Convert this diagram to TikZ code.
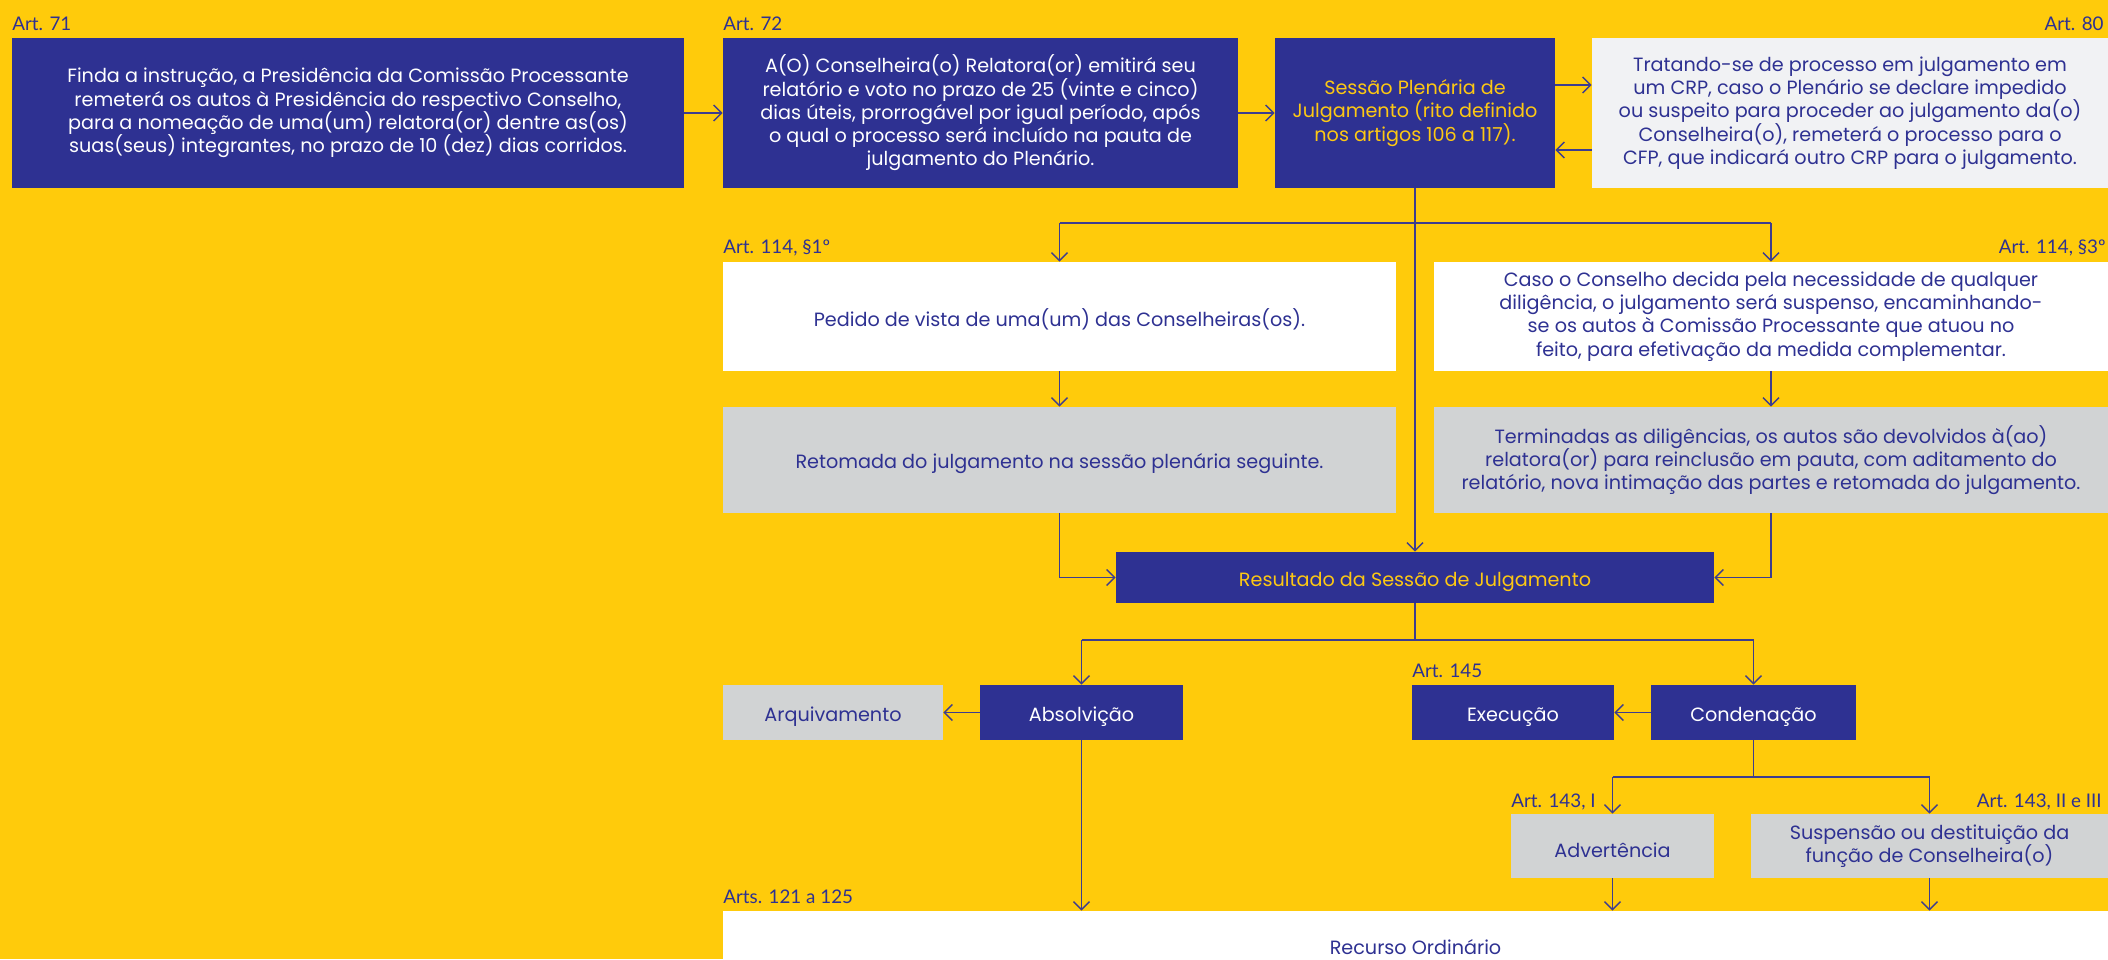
\documentclass[tikz,border=0pt]{standalone}
\usepackage{fontspec}
\setmainfont{Lato}
\newfontfamily\boxfont{Poppins}
\usetikzlibrary{arrows.meta}
\definecolor{bgy}{HTML}{FFCB0B}
\definecolor{navy}{HTML}{2E3192}
\definecolor{gry}{HTML}{D1D3D4}
\definecolor{lgry}{HTML}{F1F2F4}
\definecolor{ytxt}{HTML}{FDC813}
\definecolor{lne}{HTML}{3D3D8F}
\begin{document}
\begin{tikzpicture}[x=0.5pt,y=-0.5pt,
  box/.style={rectangle, inner sep=0pt, align=center, font=\boxfont\fontsize{9.6}{11.65}\selectfont,
    execute at begin node={\rule{0pt}{11.5pt}}},
  navybox/.style={box, fill=navy, text=white},
  navyy/.style={box, fill=navy, text=ytxt},
  whitebox/.style={box, fill=white, text=navy},
  greybox/.style={box, fill=gry, text=navy},
  lightbox/.style={box, fill=lgry, text=navy},
  lbl/.style={inner sep=0pt, text=navy, font=\fontsize{9.4}{10}\selectfont},
  conn/.style={draw=lne, line width=0.7pt},
  arr/.style={conn, -{Straight Barb[length=4pt,width=8pt]}}
]
\useasboundingbox (0,0) rectangle (2108,959);
\fill[bgy] (0,0) rectangle (2108,959);

% top row
\node[navybox, minimum width=336pt, minimum height=75pt] (b1) at (348,113)
  {Finda a instrução, a Presidência da Comissão Processante\\remeterá os autos à Presidência do respectivo Conselho,\\para a nomeação de uma(um) relatora(or) dentre as(os)\\suas(seus) integrantes, no prazo de 10 (dez) dias corridos.};
\node[navybox, minimum width=257.5pt, minimum height=75pt] (b2) at (980.5,113)
  {A(O) Conselheira(o) Relatora(or) emitirá seu\\relatório e voto no prazo de 25 (vinte e cinco)\\dias úteis, prorrogável por igual período, após\\o qual o processo será incluído na pauta de\\julgamento do Plenário.};
\node[navyy, minimum width=140pt, minimum height=75pt] (b3) at (1415,113)
  {Sessão Plenária de\\Julgamento (rito definido\\nos artigos 106 a 117).};
\node[lightbox, minimum width=258pt, minimum height=75pt] (b4) at (1850,113)
  {Tratando-se de processo em julgamento em\\um CRP, caso o Plenário se declare impedido\\ou suspeito para proceder ao julgamento da(o)\\Conselheira(o), remeterá o processo para o\\CFP, que indicará outro CRP para o julgamento.};

% second and third rows
\node[whitebox, minimum width=336.5pt, minimum height=54.5pt] (b5) at (1059.5,316.5)
  {Pedido de vista de uma(um) das Conselheiras(os).};
\node[whitebox, minimum width=337pt, minimum height=54.5pt] (b6) at (1771,316.5)
  {Caso o Conselho decida pela necessidade de qualquer\\diligência, o julgamento será suspenso, encaminhando-\\se os autos à Comissão Processante que atuou no\\feito, para efetivação da medida complementar.};
\node[greybox, minimum width=336.5pt, minimum height=53pt] (b7) at (1059.5,460)
  {Retomada do julgamento na sessão plenária seguinte.};
\node[greybox, minimum width=337pt, minimum height=53pt] (b8) at (1771,460)
  {Terminadas as diligências, os autos são devolvidos à(ao)\\relatora(or) para reinclusão em pauta, com aditamento do\\relatório, nova intimação das partes e retomada do julgamento.};

% result
\node[navyy, minimum width=299pt, minimum height=25.5pt] (res) at (1415,577.5)
  {Resultado da Sessão de Julgamento};

% outcomes
\node[navybox, minimum width=101.5pt, minimum height=27.5pt] (abs) at (1081.5,712.5) {Absolvição};
\node[greybox, minimum width=110pt, minimum height=27.5pt] (arq) at (833,712.5) {Arquivamento};
\node[navybox, minimum width=101pt, minimum height=27.5pt] (exe) at (1513,712.5) {Execução};
\node[navybox, minimum width=102.5pt, minimum height=27.5pt] (con) at (1753.5,712.5) {Condenação};
\node[greybox, minimum width=101.5pt, minimum height=32pt] (adv) at (1612.5,846) {Advertência};
\node[greybox, minimum width=178.5pt, minimum height=32pt] (sus) at (1929.5,846)
  {Suspensão ou destituição da\\função de Conselheira(o)};
\node[whitebox, minimum width=692.5pt, minimum height=32pt] (rec) at (1415.5,943) {Recurso Ordinário};

% labels
\node[lbl, anchor=base west] (l71) at (12,30) {Art. 71};
\node[lbl, anchor=base west] (l72) at (723,30) {Art. 72};
\node[lbl, anchor=base east] (l80) at (2104,30) {Art. 80};
\node[lbl, anchor=base west] (l1141) at (723,253) {Art. 114, §1º};
\node[lbl, anchor=base east] (l1143) at (2106,253) {Art. 114, §3º};
\node[lbl, anchor=base west] (l145) at (1412,677) {Art. 145};
\node[lbl, anchor=base west] (l143a) at (1511,807) {Art. 143, I};
\node[lbl, anchor=base east] (l143b) at (2102,807) {Art. 143, II e III};
\node[lbl, anchor=base west] (l121) at (723,903) {Arts. 121 a 125};

% helper coordinates
\coordinate (y85) at (0,85);
\coordinate (y150) at (0,150);
\coordinate (br1) at (1415,223);
\coordinate (br2) at (1415,640);
\coordinate (br3) at (1753.5,777);

% connectors top
\draw[arr] (b1) -- (b2);
\draw[arr] (b2) -- (b3);
\draw[arr] (b3.east |- y85) -- (b4.west |- y85);
\draw[arr] (b4.west |- y150) -- (b3.east |- y150);
\draw[arr] (b3.south) -- (b3.south |- res.north);

% branch 1
\draw[conn] (b5.north |- br1) -- (b6.north |- br1);
\draw[arr] (b5.north |- br1) -- (b5.north);
\draw[arr] (b6.north |- br1) -- (b6.north);
\draw[arr] (b5) -- (b7);
\draw[arr] (b6) -- (b8);
\draw[arr] (b7.south) |- (res.west);
\draw[arr] (b8.south) |- (res.east);

% branch 2
\draw[conn] (res.south) -- (br2);
\draw[conn] (abs.north |- br2) -- (con.north |- br2);
\draw[arr] (abs.north |- br2) -- (abs.north);
\draw[arr] (con.north |- br2) -- (con.north);
\draw[arr] (abs) -- (arq);
\draw[arr] (con) -- (exe);

% branch 3
\draw[conn] (con.south) -- (br3);
\draw[conn] (adv.north |- br3) -- (sus.north |- br3);
\draw[arr] (adv.north |- br3) -- (adv.north);
\draw[arr] (sus.north |- br3) -- (sus.north);

% into recurso
\draw[arr] (abs.south) -- (abs.south |- rec.north);
\draw[arr] (adv.south) -- (adv.south |- rec.north);
\draw[arr] (sus.south) -- (sus.south |- rec.north);
\end{tikzpicture}
\end{document}
